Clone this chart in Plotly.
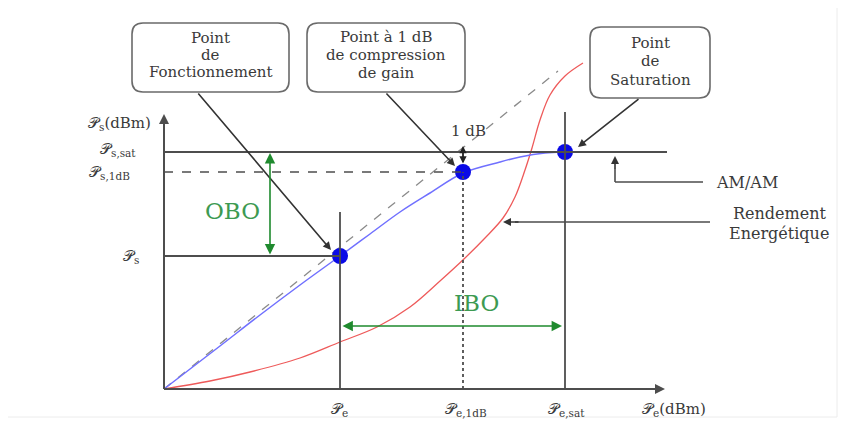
import plotly.graph_objects as go

# ---- data (drawing units, y grows downward like the sketch) ----
origin = (164, 389)
axis_end_x = 665
axis_end_y = 114

pe_pos = [340, 463, 565]
pe_labels = ["𝒫<sub>e</sub>", "𝒫<sub>e,1dB</sub>", "𝒫<sub>e,sat</sub>"]
ps_pos = [256, 172, 152]
ps_labels = ["𝒫<sub>s</sub>", "𝒫<sub>s,1dB</sub>", "𝒫<sub>s,sat</sub>"]

amam_x = [164, 220, 260, 300, 340, 370, 400, 430, 463, 500, 520, 545, 565, 665]
amam_y = [389, 346, 315, 285, 256, 234, 212, 193, 173, 162, 157, 153, 152, 152]

lin_x = [164, 558]
lin_y = [389, 71]

eff_x = [164, 210, 250, 300, 340, 377, 410, 440, 465, 485, 503, 515, 525, 532, 540, 550, 565, 583]
eff_y = [389, 381, 372, 358, 342, 327, 307, 281, 258, 238, 218, 197, 170, 148, 120, 95, 76, 63]

pts_x = [340, 463, 565]
pts_y = [256, 172, 152]

boxes = [
    dict(x0=132, x1=289, y0=23, y1=92, lines=["Point", "de", "Fonctionnement"], ys=[38, 55, 72]),
    dict(x0=307, x1=465, y0=23, y1=92, lines=["Point à 1 dB", "de compression", "de gain"], ys=[37, 55, 73]),
    dict(x0=590, x1=710, y0=27, y1=98, lines=["Point", "de", "Saturation"], ys=[43, 61, 80]),
]
callout_arrows = [((197, 92), (331, 250)), ((385, 92), (455, 166)), ((640, 98), (578, 147))]

SERIF = "DejaVu Serif, Liberation Serif, serif"
GRAY = "#4d4d4d"
GREEN = "#1f8a2e"
TXT = "#3a3a3a"

fig = go.Figure()

# linear extension (dashed)
fig.add_trace(go.Scatter(x=lin_x, y=lin_y, mode="lines",
                         line=dict(color="#8a8a8a", width=1.3, dash="dash"), hoverinfo="skip"))
# efficiency (red)
fig.add_trace(go.Scatter(x=eff_x, y=eff_y, mode="lines", line_shape="spline",
                         line=dict(color="#ee5a5a", width=1.3), hoverinfo="skip"))

shapes = []
# axes
shapes.append(dict(type="line", x0=origin[0], y0=origin[1], x1=axis_end_x - 8, y1=origin[1],
                   line=dict(color=GRAY, width=2)))
shapes.append(dict(type="line", x0=origin[0], y0=origin[1], x1=origin[0], y1=axis_end_y + 8,
                   line=dict(color=GRAY, width=2)))
# horizontal reference lines
shapes.append(dict(type="line", x0=origin[0], y0=ps_pos[2], x1=667, y1=ps_pos[2], line=dict(color=GRAY, width=1.8)))
shapes.append(dict(type="line", x0=origin[0], y0=ps_pos[1], x1=pe_pos[1], y1=ps_pos[1], line=dict(color=GRAY, width=1.6, dash="dash")))
shapes.append(dict(type="line", x0=origin[0], y0=ps_pos[0], x1=pe_pos[0], y1=ps_pos[0], line=dict(color=GRAY, width=1.8)))
# vertical reference lines
shapes.append(dict(type="line", x0=pe_pos[0], y0=origin[1], x1=pe_pos[0], y1=212, line=dict(color=GRAY, width=1.8)))
shapes.append(dict(type="line", x0=pe_pos[1], y0=origin[1], x1=pe_pos[1], y1=ps_pos[1], line=dict(color=GRAY, width=1.8, dash="dot")))
shapes.append(dict(type="line", x0=pe_pos[2], y0=origin[1], x1=pe_pos[2], y1=112, line=dict(color=GRAY, width=1.8)))
# AM/AM bracket and Rendement pointer
shapes.append(dict(type="line", x0=615, y0=182, x1=703, y1=182, line=dict(color=GRAY, width=1.6)))
shapes.append(dict(type="line", x0=615, y0=168, x1=615, y1=182, line=dict(color=GRAY, width=1.6)))
shapes.append(dict(type="line", x0=515, y0=222, x1=710, y1=222, line=dict(color=GRAY, width=1.6)))


def rounded(x0, x1, y0, y1, r=11):
    return (f"M {x0+r},{y0} L {x1-r},{y0} Q {x1},{y0} {x1},{y0+r} L {x1},{y1-r} "
            f"Q {x1},{y1} {x1-r},{y1} L {x0+r},{y1} Q {x0},{y1} {x0},{y1-r} "
            f"L {x0},{y0+r} Q {x0},{y0} {x0+r},{y0} Z")


for b in boxes:
    shapes.append(dict(type="path", path=rounded(b["x0"], b["x1"], b["y0"], b["y1"]),
                       line=dict(color="#6a6a6a", width=1.6), fillcolor="white"))

# faint frame
shapes.append(dict(type="rect", x0=4, y0=4, x1=837, y1=417, line=dict(color="#ececec", width=1)))

fig.update_layout(shapes=shapes)

# AM/AM curve and markers
fig.add_trace(go.Scatter(x=amam_x, y=amam_y, mode="lines", line_shape="spline",
                         line=dict(color="#7070ff", width=1.5), hoverinfo="skip"))
fig.add_trace(go.Scatter(x=pts_x, y=pts_y, mode="markers",
                         marker=dict(color="#0a0ae6", size=16, symbol="circle"), hoverinfo="skip"))

ann = []


def arrow(head, tail, color="#333", width=1.6, size=1.0, both=False):
    d = dict(x=head[0], y=head[1], ax=tail[0], ay=tail[1], xref="x", yref="y", axref="x", ayref="y",
             text="", showarrow=True, arrowhead=2, arrowsize=size, arrowwidth=width, arrowcolor=color)
    if both:
        d.update(startarrowhead=2, arrowside="end+start", startarrowsize=size)
    ann.append(d)


# axis arrowheads
arrow((axis_end_x, origin[1]), (axis_end_x - 20, origin[1]), color=GRAY, width=2)
arrow((origin[0], axis_end_y), (origin[0], axis_end_y + 20), color=GRAY, width=2)
# callout arrows
for (t, h) in callout_arrows:
    arrow(h, t)
# AM/AM pointer, rendement pointer
arrow((615, 156), (615, 170))
arrow((503, 222), (520, 222))
# 1 dB double arrow
arrow((pe_pos[1], 146), (pe_pos[1], 165), color="#222", width=1.8, size=0.8, both=True)
# OBO / IBO arrows
arrow((270, 153), (270, 256), color=GREEN, width=1.6, size=1.3, both=True)
arrow((562, 326), (341, 326), color=GREEN, width=1.6, size=1.3, both=True)


def txt(x, y, s, size=15, color=TXT, xanchor="center"):
    ann.append(dict(x=x, y=y, xref="x", yref="y", text=s, showarrow=False, xanchor=xanchor,
                    yanchor="middle", font=dict(family=SERIF, size=size, color=color)))


for b in boxes:
    cx = (b["x0"] + b["x1"]) / 2
    for line, yy in zip(b["lines"], b["ys"]):
        txt(cx, yy, line, size=15)

txt(232, 211, "OBO", size=23, color="#3d9a52")
txt(476, 303, "IBO", size=23, color="#3d9a52")
txt(468, 131, "1 dB", size=15)
txt(714, 182, "AM/AM", size=16, xanchor="left")
txt(779, 213, "Rendement", size=16)
txt(779, 233, "Energétique", size=16)

# axis labels
txt(153, 123, "𝒫<sub>s</sub>(dBm)", size=15, xanchor="right")
for p, lab, xr in zip(ps_pos, ps_labels, [141, 132, 138]):
    txt(xr, p - (3 if p == ps_pos[2] else 0), lab, size=15, xanchor="right")
for p, lab, xc in zip(pe_pos, pe_labels, [339, 466, 566]):
    txt(xc, 409, lab, size=15)
txt(674, 409, "𝒫<sub>e</sub>(dBm)", size=15)

fig.update_layout(annotations=ann)

# the page adds an 8px body margin: size the figure so drawing units map 1:1 to screen pixels
fig.update_layout(
    width=838, height=419, margin=dict(l=0, r=0, t=0, b=0),
    paper_bgcolor="white", plot_bgcolor="white", showlegend=False,
    xaxis=dict(range=[8, 846], visible=False, fixedrange=True),
    yaxis=dict(range=[427, 8], visible=False, fixedrange=True),
)

fig.write_html("out.html")
